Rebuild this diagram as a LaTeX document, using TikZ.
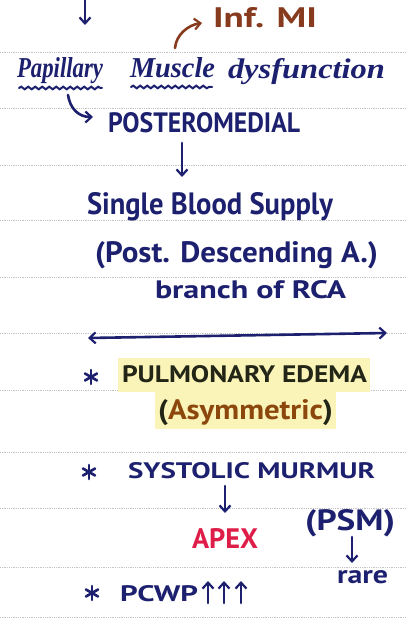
\documentclass[tikz,border=0pt]{standalone}
\usepackage{fontspec}
\setmainfont{PT Sans}
\newfontfamily\cursfont{Liberation Serif}
\usepackage{graphicx}
\usetikzlibrary{arrows.meta,decorations.pathmorphing}
\definecolor{ink}{RGB}{28,32,110}
\definecolor{brownink}{RGB}{135,58,30}
\definecolor{apexred}{RGB}{222,30,72}
\definecolor{asymink}{RGB}{140,72,12}
\definecolor{darkink}{RGB}{35,38,22}
\definecolor{hilite}{RGB}{250,244,185}
\definecolor{rule}{RGB}{195,195,195}
\newcommand\hfit[3]{\resizebox{#1pt}{#2pt}{#3}}
\tikzset{
  txt/.style={inner sep=0pt, outer sep=0pt, anchor=base west, text=ink, font=\bfseries},
  pen/.style={draw=ink, line width=2.6pt, line cap=round},
  tip/.tip={Straight Barb[length=6pt,width=11pt,line width=2.2pt]},
  arr/.style={pen, -tip},
  darr/.style={pen, tip-tip},
  ruled/.style={draw=rule, line width=0.8pt, densely dotted},
  wavy/.style={pen, line width=2pt, decorate, decoration={snake, segment length=7pt, amplitude=1.3pt}},
  starpen/.style={draw=ink, line width=2.6pt, line cap=round}
}
\begin{document}
\begin{tikzpicture}[x=1pt,y=-1pt]
\useasboundingbox (0,0) rectangle (406,628);
\fill[white] (0,0) rectangle (406,628);
% ruled lines
\foreach \yy in {52,108,165,220,277,333,390,452,508,567,617}
  \draw[ruled] (0,\yy) -- (406,\yy);
% highlights
\fill[hilite] (118,358) rectangle (370,392);
\fill[hilite] (155,392) rectangle (336,429);

% top arrow
\coordinate (topA) at (85,0);
\coordinate (topB) at (85,25);
\draw[arr] (topA) -- (topB);

% Inf. MI
\node[txt, text=brownink] (inf) at (213,28) {\hfit{104}{20}{Inf. MI}};

% Papillary Muscle dysfunction
\node[txt] (pap1) at (17,78) {\hfit{86}{20}{\cursfont\bfseries\itshape Papillary}};
\node[txt] (pap2) at (130,78) {\hfit{85}{20}{\cursfont\bfseries\itshape Muscle}};
\node[txt] (pap3) at (228,79) {\hfit{157}{20}{\cursfont\bfseries\itshape dysfunction}};
\draw[wavy] (19,88) -- (102,88);
\draw[wavy] (131,87) -- (212,87);

% arrow to Inf. MI
\coordinate (infS) at (175,48);
\coordinate (infE) at (202,23);
\draw[arr, draw=brownink] (infS) .. controls (176,35) and (188,25) .. (infE);

% POSTEROMEDIAL
\node[txt] (post) at (108,133) {\hfit{192}{20}{POSTEROMEDIAL}};
\coordinate (papS) at (68,95);
\coordinate (papE) at (93,117);
\draw[arr] (papS) .. controls (70,108) and (78,117) .. (papE);

% Single blood supply
\node[txt] (single) at (87,214) {\hfit{246}{22}{Single Blood Supply}};
\coordinate (psA) at (182,143);
\coordinate (psB) at (182,177);
\draw[arr] (psA) -- (psB);
\node[txt] (desc) at (95,262) {\hfit{283}{21}{(Post. Descending A.)}};
\node[txt] (rca) at (155,298) {\hfit{191}{18}{branch of RCA}};

% double arrow
\coordinate (dL) at (88,338);
\coordinate (dR) at (387,333);
\draw[darr] (dL) -- (dR);

% stars
\foreach \sx/\sy in {91/377, 89/472, 92/593}{
  \foreach \ang in {90,30,150}
    \draw[starpen] (\sx,\sy) ++(\ang:7) -- ++(\ang+180:14);
}

% pulmonary edema
\node[txt, text=darkink] (pulm) at (122,382) {\hfit{245}{17}{PULMONARY EDEMA}};
\node[txt, text=darkink] (asym) at (158,419) {\hfit{175}{20}{(\textcolor{asymink}{Asymmetric})}};

% systolic murmur
\node[txt] (syst) at (128,478) {\hfit{247}{16}{SYSTOLIC MURMUR}};
\node[txt, text=apexred] (apex) at (192,548) {\hfit{66}{20}{APEX}};
\coordinate (saA) at (225,486);
\coordinate (saB) at (225,513);
\draw[arr] (saA) -- (saB);
\node[txt] (psm) at (305,530) {\hfit{90}{21}{(PSM)}};
\node[txt] (rare) at (337,583) {\hfit{51}{13}{rare}};
\coordinate (prA) at (352,537);
\coordinate (prB) at (352,563);
\draw[arr] (prA) -- (prB);

% PCWP
\node[txt] (pcwp) at (120,601) {\hfit{78}{16}{PCWP}};
\foreach \ux in {208,224,241}
  \draw[arr] (\ux,603) -- (\ux,581);
\end{tikzpicture}
\end{document}
